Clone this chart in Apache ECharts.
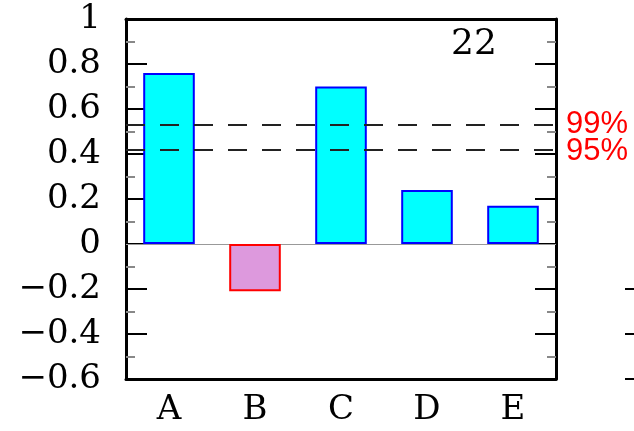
<!DOCTYPE html>
<html><head><meta charset="utf-8">
<script src="https://cdn.jsdelivr.net/npm/echarts@6/dist/echarts.min.js"></script>
<style>html,body{margin:0;padding:0;background:#fff}#c{width:634px;height:431px}</style>
</head><body><div id="c"></div>
<script>
var categories = ['A','B','C','D','E'];
var values = [0.76, -0.21, 0.70, 0.24, 0.17];
var sig99 = 0.533;
var sig95 = 0.422;
var panelLabel = '22';
var yMin = -0.6, yMax = 1, yStep = 0.2;

var chart = echarts.init(document.getElementById('c'));
var fontF = 'DejaVu Serif';
function yAx(pos, showLabel, offset) {
  return {
    type: 'value', position: pos, min: yMin, max: yMax, interval: yStep, offset: offset || 0,
    axisLine: {show: true, onZero: false, lineStyle: {color: '#000', width: 3}},
    axisTick: {show: true, inside: true, length: 21, lineStyle: {color: '#000', width: 2}},
    minorTick: {show: true, splitNumber: 2, length: 9, lineStyle: {color: '#888', width: 2}},
    splitLine: {show: false},
    axisLabel: {show: showLabel, color: '#000', fontFamily: fontF, fontSize: 34, margin: 25,
      formatter: function (v) { v = Math.round(v * 10) / 10; return (v < 0 ? '\u2212' + (-v) : '' + v); }}
  };
}
var extra = {
  type: 'value', position: 'right', min: yMin, max: yMax, interval: yStep, offset: 69,
  axisLine: {show: false},
  axisTick: {show: true, inside: false, length: 9, customValues: [-0.6, -0.4, -0.2], lineStyle: {color: '#000', width: 2}},
  axisLabel: {show: false}, splitLine: {show: false}
};
chart.setOption({
  animation: false,
  title: {text: panelLabel, left: 446, top: 22, textStyle: {fontFamily: fontF, fontSize: 36, fontWeight: 'normal', color: '#000'}},
  grid: {left: 126, right: 78, top: 19, bottom: 52},
  xAxis: [{
    type: 'category', data: categories, position: 'bottom',
    axisLine: {show: true, onZero: false, lineStyle: {color: '#000', width: 3}},
    axisTick: {show: false},
    axisLabel: {color: '#000', fontFamily: fontF, fontSize: 34, margin: 14}
  }, {
    type: 'category', data: categories, position: 'top',
    axisLine: {show: true, onZero: false, lineStyle: {color: '#000', width: 3}},
    axisTick: {show: false}, axisLabel: {show: false}
  }],
  yAxis: [yAx('left', true), yAx('right', false), extra],
  series: [{
    type: 'bar', barWidth: '60%', xAxisIndex: 0, yAxisIndex: 0, z: 2,
    data: values.map(function (v) {
      return {value: v, itemStyle: v < 0 ? {color: '#dd99dd', borderColor: '#ff0000', borderWidth: 2}
                                         : {color: '#00ffff', borderColor: '#0000ff', borderWidth: 2}};
    }),
    markLine: {
      silent: true, symbol: 'none', animation: false, z: 1,
      data: [
        {yAxis: 0, lineStyle: {type: 'solid', color: '#999', width: 1}, label: {show: false}}
      ]
    }
  }, {
    type: 'line', data: [], xAxisIndex: 0, yAxisIndex: 0, z: 10,
    markLine: {
      silent: true, symbol: 'none', animation: false,
      data: [
        {yAxis: sig99, lineStyle: {type: [19, 15], color: '#222', width: 2},
          label: {show: true, position: 'end', formatter: '99%', color: '#ff0000', fontSize: 31, fontFamily: 'Liberation Sans', distance: 10, offset: [0, 0]}},
        {yAxis: sig95, lineStyle: {type: [19, 15], color: '#222', width: 2},
          label: {show: true, position: 'end', formatter: '95%', color: '#ff0000', fontSize: 31, fontFamily: 'Liberation Sans', distance: 10, offset: [0, 2]}}
      ]
    }
  }]
});
</script></body></html>
